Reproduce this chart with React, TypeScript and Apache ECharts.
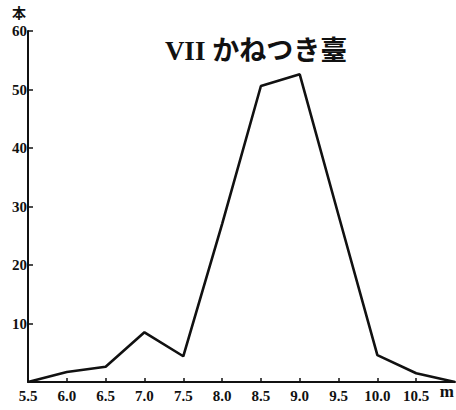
import React, { useEffect, useRef } from "react";
import * as echarts from "echarts";

const heights = [5.5, 6.0, 6.5, 7.0, 7.5, 8.0, 8.5, 9.0, 9.5, 10.0, 10.5, 11.0];
const counts = [0, 1.7, 2.6, 8.5, 4.4, 27, 50.6, 52.6, 28.5, 4.6, 1.5, 0];
const yTicks = [10, 20, 30, 40, 50, 60];
const titleText = "VII かねつき臺";
const yName = "本";
const xUnit = "m";

const serif = "'Liberation Serif', 'DejaVu Serif', 'Noto Sans CJK JP', serif";

export default function App() {
  const ref = useRef<HTMLDivElement>(null);
  useEffect(() => {
    if (!ref.current) return;
    const chart = echarts.init(ref.current, null, { renderer: "svg" });
    chart.setOption({
      animation: false,
      backgroundColor: "#ffffff",
      title: {
        text: titleText,
        left: 251,
        top: 32,
        textAlign: "center",
        textStyle: {
          fontFamily: "'Liberation Serif', 'Noto Sans CJK JP', serif",
          fontWeight: "bold",
          fontSize: 27,
          color: "#111",
        },
      },
      grid: { left: 28, right: 1, top: 31, bottom: 28, containLabel: false },
      xAxis: {
        type: "value",
        min: 5.5,
        max: 11,
        interval: 0.5,
        axisLine: { show: true, lineStyle: { color: "#111", width: 2 } },
        axisTick: { show: true, inside: true, length: 4, lineStyle: { color: "#111", width: 1.5 } },
        splitLine: { show: false },
        axisLabel: {
          margin: 6,
          color: "#111",
          fontFamily: serif,
          fontWeight: "bold",
          fontSize: 15,
          showMaxLabel: false,
          formatter: (v: number) => (v >= 11 ? "" : v.toFixed(1)),
        },
      },
      yAxis: {
        type: "value",
        min: 0,
        max: 60,
        interval: 10,
        name: yName,
        nameLocation: "end",
        nameGap: 12,
        nameTextStyle: {
          fontFamily: "'Noto Sans CJK JP', serif",
          fontWeight: "bold",
          fontSize: 14,
          color: "#111",
          align: "center",
          padding: [0, 18, 0, 0],
        },
        axisLine: { show: true, lineStyle: { color: "#111", width: 2 } },
        axisTick: { show: true, inside: true, length: 5, lineStyle: { color: "#111", width: 1.5 } },
        splitLine: { show: false },
        axisLabel: {
          margin: 1,
          color: "#111",
          fontFamily: serif,
          fontWeight: "bold",
          fontSize: 15,
          formatter: (v: number) => (yTicks.includes(v) ? String(v) : ""),
        },
      },
      graphic: [
        {
          type: "text",
          right: 2,
          top: 383,
          style: {
            text: xUnit,
            font: "bold 17px 'Liberation Serif', serif",
            fill: "#111",
          },
        },
      ],
      series: [
        {
          type: "line",
          data: heights.map((h, i) => [h, counts[i]]),
          symbol: "none",
          lineStyle: { color: "#111", width: 2.6 },
        },
      ],
    });
    return () => chart.dispose();
  }, []);
  return (
    <div
      ref={ref}
      style={{ position: "fixed", left: 0, top: 0, width: 456, height: 410 }}
    />
  );
}
